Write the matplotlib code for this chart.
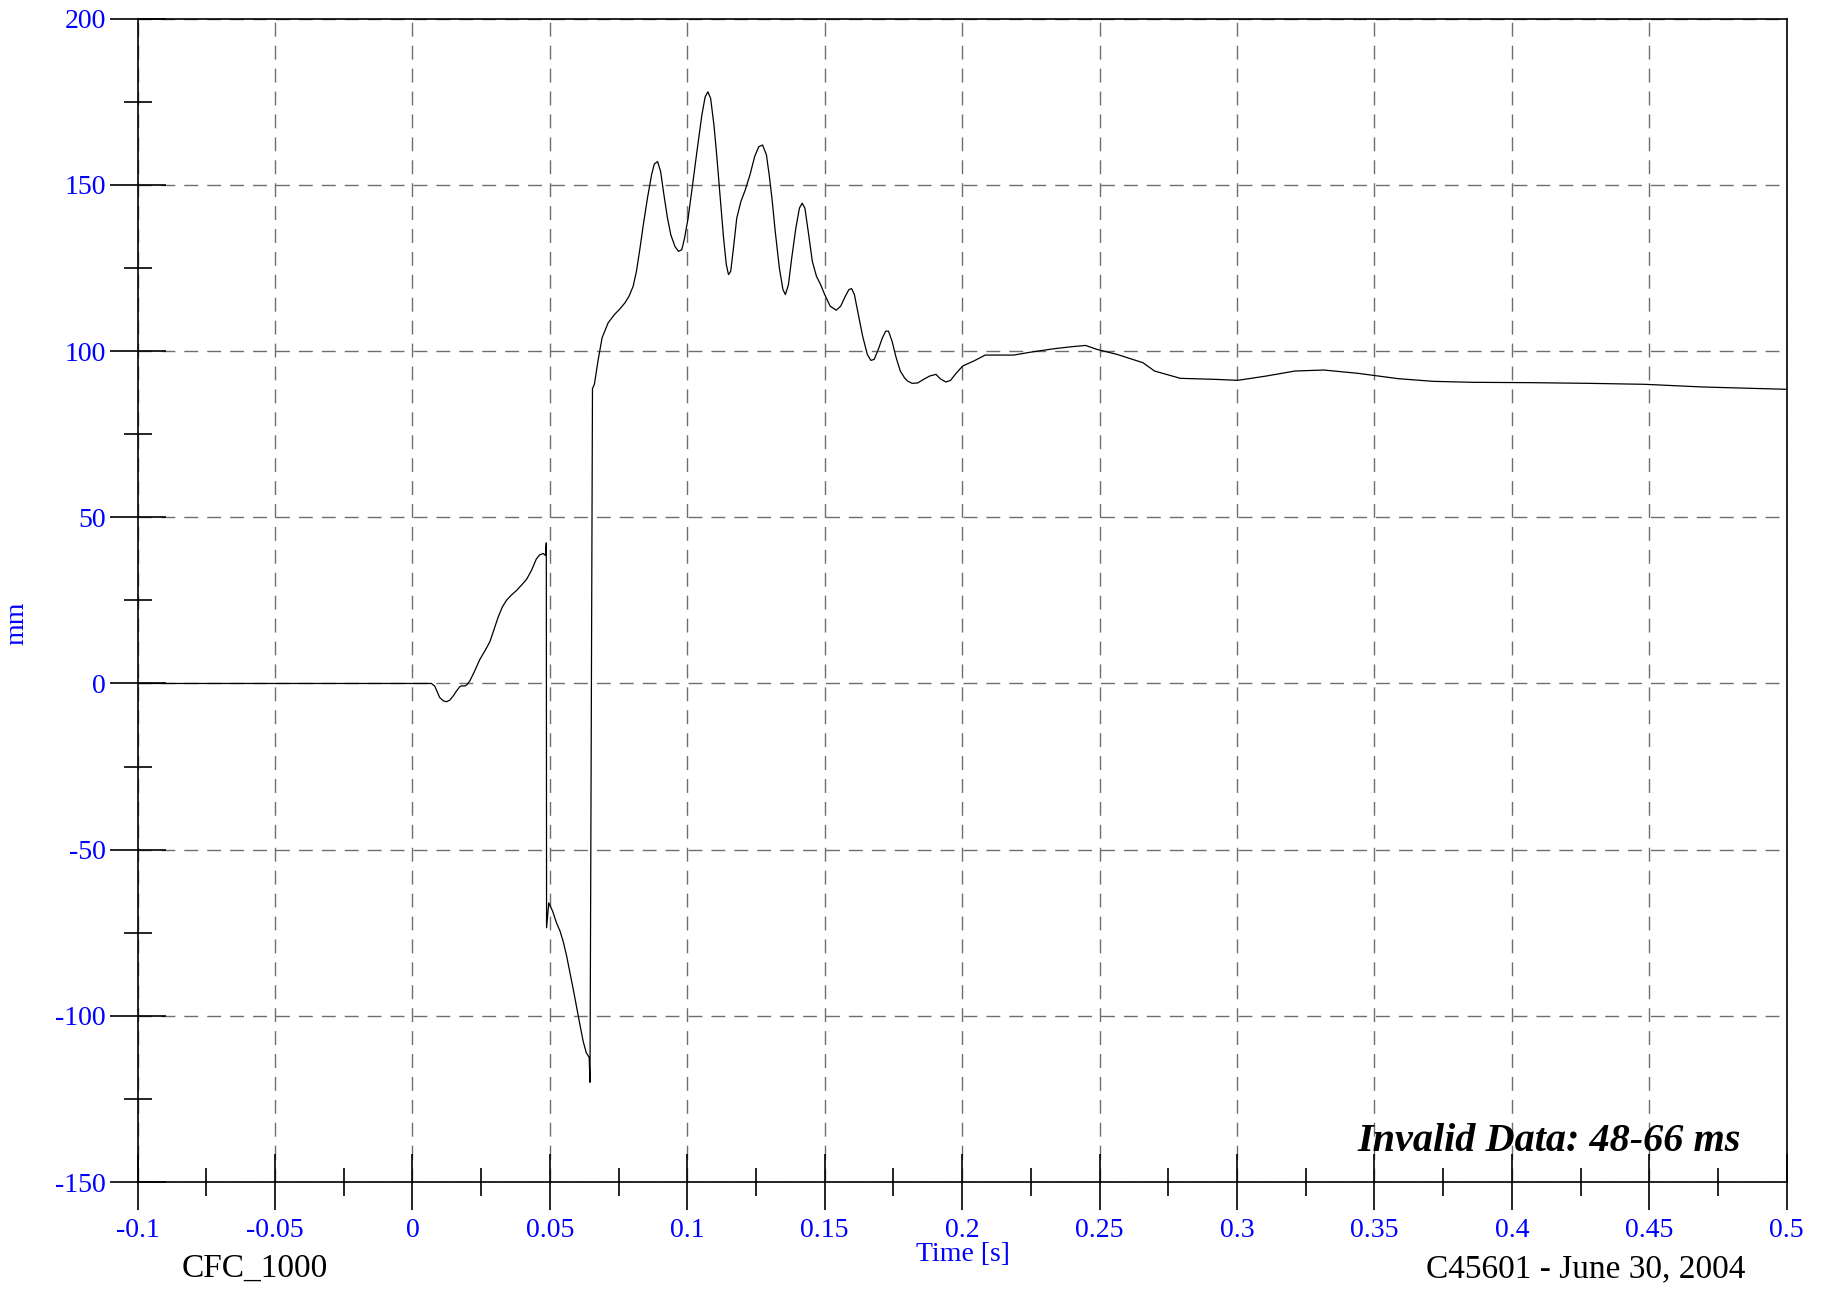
import numpy as np
import matplotlib.pyplot as plt
from matplotlib.ticker import MultipleLocator

plt.rcParams['font.family'] = ['Liberation Serif', 'DejaVu Serif']
plt.rcParams['axes.unicode_minus'] = False

# 数据：时间 [s] 与位移 [mm]
time_s = [
    -0.1, 0.006, 0.0069, 0.0081, 0.0099, 0.0112, 0.0124, 0.0136, 0.0148, 0.016,
    0.0172, 0.018, 0.0188, 0.0198, 0.0209, 0.0225, 0.0245, 0.0265, 0.0282, 0.0298,
    0.0312, 0.0327, 0.0342, 0.036, 0.0379, 0.0397, 0.0415, 0.0433, 0.0451, 0.0463,
    0.0476, 0.0484, 0.0487, 0.0488, 0.0496, 0.051, 0.0524, 0.0537, 0.0549, 0.0561,
    0.0573, 0.0585, 0.0597, 0.0609, 0.0621, 0.0632, 0.0643, 0.0646, 0.0655, 0.0662,
    0.0675, 0.069, 0.0712, 0.0735, 0.0755, 0.0773, 0.0788, 0.0803, 0.0815, 0.0828,
    0.084, 0.0855, 0.087, 0.088, 0.0892, 0.0903, 0.0915, 0.0928, 0.094, 0.0955,
    0.0968, 0.098, 0.099, 0.1003, 0.1016, 0.1035, 0.1053, 0.1065, 0.1075, 0.1085,
    0.1097, 0.1107, 0.112, 0.1132, 0.1142, 0.115, 0.1158, 0.1168, 0.118, 0.1195,
    0.1211, 0.1228, 0.1245, 0.126, 0.1274, 0.1288, 0.1298, 0.1308, 0.132, 0.1335,
    0.1348, 0.1357, 0.1368, 0.138, 0.1395, 0.1408, 0.1418, 0.1428, 0.144, 0.1455,
    0.147, 0.1485, 0.15, 0.152, 0.1542, 0.1558, 0.1575, 0.1588, 0.1598, 0.1608,
    0.162, 0.1638, 0.1655, 0.1668, 0.168, 0.1695, 0.171, 0.1722, 0.1732, 0.1745,
    0.176, 0.1775, 0.179, 0.1801, 0.1818, 0.1838, 0.186, 0.1882, 0.1905, 0.192,
    0.1941, 0.1958, 0.1975, 0.2002, 0.2042, 0.2084, 0.2188, 0.2251, 0.2334, 0.2397,
    0.2449, 0.2491, 0.2564, 0.2658, 0.27, 0.2794, 0.2919, 0.3003, 0.3107, 0.3211,
    0.3316, 0.3441, 0.3587, 0.3713, 0.3859, 0.4067, 0.4276, 0.4485, 0.4694, 0.5,
]
disp_mm = [
    0, 0, 0, -0.8, -4.2, -5.2, -5.5, -5.0, -3.8, -2.3,
    -1.0, -0.7, -0.8, -0.4, 0.8, 3.5, 7.2, 10.0, 12.6, 16.5,
    20, 23, 25, 26.6, 28, 29.6, 31.3, 34, 37.5, 38.7,
    39.1, 38.5, 42.3, -73.5, -66, -68.5, -72, -74.5, -77.8, -82,
    -87, -92, -97.3, -102.5, -107.6, -111, -112.5, -120, 88.7, 90,
    97, 104, 108.5, 111, 112.7, 114.5, 116.5, 119.5, 124, 131,
    138, 146, 153, 156.3, 157, 154, 147, 140, 135, 131.5,
    130, 130.5, 134, 140, 148, 160, 171, 176.5, 178, 176,
    168, 159, 146, 134, 126, 123, 124, 131, 140, 145,
    148.5, 153, 158.5, 161.5, 162, 159, 153, 146, 136, 125,
    118.5, 117, 120, 128, 137, 143, 144.5, 143, 136, 127,
    122.5, 120, 117, 113.5, 112.3, 113.5, 116.5, 118.5, 118.8, 117,
    112, 104.5, 99, 97.2, 97.5, 100.5, 104, 106, 106, 103,
    98, 94, 92, 91, 90.3, 90.4, 91.5, 92.5, 93, 91.7,
    90.7, 91.2, 93, 95.5, 97, 98.8, 98.8, 99.7, 100.7, 101.3,
    101.7, 100.5, 99, 96.5, 94, 91.8, 91.5, 91.2, 92.5, 94,
    94.3, 93.3, 91.7, 90.9, 90.6, 90.5, 90.3, 90, 89.2, 88.5,
]

x_ticks = [-0.1, -0.05, 0, 0.05, 0.1, 0.15, 0.2, 0.25, 0.3, 0.35, 0.4, 0.45, 0.5]
x_labels = ['-0.1', '-0.05', '0', '0.05', '0.1', '0.15', '0.2', '0.25', '0.3',
            '0.35', '0.4', '0.45', '0.5']
y_ticks = [-150, -100, -50, 0, 50, 100, 150, 200]
y_labels = ['-150', '-100', '-50', '0', '50', '100', '150', '200']

blue = '#0000ff'

fig = plt.figure(figsize=(18.3, 12.9), dpi=100)
ax = fig.add_axes([0.0752, 0.0837, 0.9011, 0.9018])

ax.plot(time_s, disp_mm, color='black', linewidth=0.9)

ax.set_xlim(-0.1, 0.5)
ax.set_ylim(-150, 200)
ax.set_xticks(x_ticks)
ax.set_xticklabels(x_labels)
ax.set_yticks(y_ticks)
ax.set_yticklabels(y_labels)
ax.xaxis.set_minor_locator(MultipleLocator(0.025))
ax.yaxis.set_minor_locator(MultipleLocator(25))

ax.tick_params(which='major', direction='inout', length=40, width=1.2,
               labelsize=20, labelcolor=blue, color='black')
ax.tick_params(which='minor', direction='inout', length=20, width=1.2, color='black')
ax.tick_params(axis='x', which='major', pad=6)
ax.tick_params(axis='y', which='major', pad=3)
ax.tick_params(top=False, right=False, which='both')

ax.grid(True, which='major', color='#6e6e6e', linestyle=(0, (10, 6.5)), linewidth=1.0)
for sp in ax.spines.values():
    sp.set_linewidth(1.2)

fig.text(0.526, 0.0275, 'Time [s]', color=blue, fontsize=20, ha='center', va='center')
fig.text(0.0093, 0.517, 'mm', color=blue, fontsize=20, ha='center', va='center',
         rotation=90)
fig.text(0.139, 0.0163, 'CFC_1000', color='black', fontsize=24, ha='center', va='center')
fig.text(0.954, 0.0163, 'C45601 - June 30, 2004', color='black', fontsize=24,
         ha='right', va='center')
ax.text(0.972, 0.0266, 'Invalid Data: 48-66 ms', transform=ax.transAxes,
        fontsize=29, fontweight='bold', fontstyle='italic', ha='right', va='baseline')

plt.savefig('out.png', dpi=100)
